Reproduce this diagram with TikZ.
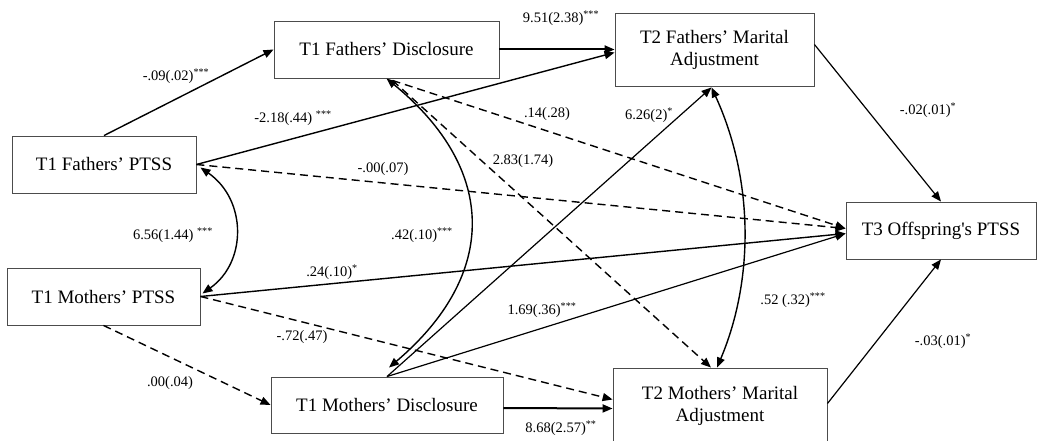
\documentclass[tikz,border=0pt]{standalone}
\usepackage{fontspec}
\setmainfont{Liberation Serif}[Ligatures=TeXOff]
\usetikzlibrary{arrows.meta,calc}
\newcommand\sig[1]{\textsuperscript{#1}}
\begin{document}
\begin{tikzpicture}[x=1pt,y=-1pt,
  box/.style={draw=black!70,line width=0.9pt,inner sep=0pt,align=center,font=\fontsize{19}{22}\selectfont},
  lab/.style={font=\fontsize{14.5}{16}\selectfont,inner sep=0pt},
  tip/.tip={Triangle[length=10pt,width=8pt]},
  arr/.style={line width=1.4pt,-tip},
  dbl/.style={line width=1.4pt,tip-tip},
  dsh/.style={dash pattern=on 8pt off 5pt},
  thk/.style={line width=2pt},
  thn/.style={line width=1.2pt}]
\useasboundingbox (0,0) rectangle (1040,441);
% boxes
\node[box,minimum width=184pt,minimum height=57pt] (fpt) at (104,164.5) {T1 Fathers’ PTSS};
\node[box,minimum width=193pt,minimum height=57pt] (mpt) at (103.5,296.5) {T1 Mothers’ PTSS};
\node[box,minimum width=225pt,minimum height=57pt] (fd) at (386.5,49.5) {T1 Fathers’ Disclosure};
\node[box,minimum width=232pt,minimum height=56pt] (md) at (387,405) {T1 Mothers’ Disclosure};
\node[box,minimum width=199pt,minimum height=73pt] (t2f) at (714.5,49.5) {T2 Fathers’ Marital\\Adjustment};
\node[box,minimum width=214pt,minimum height=75pt] (t2m) at (720,405.5) {T2 Mothers’ Marital\\Adjustment};
\node[box,minimum width=190pt,minimum height=57pt] (t3) at (941,230.5) {T3 Offspring's PTSS};
% connectors
\draw[arr] (fpt.north) -- (fd.west);
\draw[arr,thk] (fd.east) -- (t2f.west);
\draw[arr] (fpt.east) -- ($(t2f.west)+(0,3)$);
\draw[arr,dsh] (fpt.east) -- ($(t3.west)+(0,-2)$);
\draw[dbl] ($(fpt.east)+(4,3)$) .. controls (247,200) and (247,262) .. ($(mpt.east)+(2,-3)$);
\draw[dbl] (fd.south) .. controls (498,170) and (498,275) .. ($(md.north)+(2,-9)$);
\draw[arr,dsh] ($(fd.south)+(6,2)$) -- ($(t3.west)+(0,-2)$);
\draw[arr,dsh] ($(fd.south)+(6,2)$) -- ($(t2m.north)+(-9,0)$);
\draw[arr,thn] (md.north) -- ($(t2f.south)+(-3,1)$);
\draw[dbl] ($(t2f.south)+(-3,1)$) .. controls (754,180) and (754,280) .. ($(t2m.north)+(-3,0)$);
\draw[arr] (mpt.east) -- ($(t3.west)+(0,3)$);
\draw[arr,dsh] (mpt.east) -- ($(t2m.west)+(0,-6)$);
\draw[arr,dsh] (mpt.south) -- (md.west);
\draw[arr,thn] (md.north) -- ($(t3.west)+(0,3)$);
\draw[arr,thk] ($(md.east)+(0,3)$) -- ($(t2m.west)+(0,3)$);
\draw[arr,thn] ($(t2f.east)+(0,-5)$) -- (t3.north);
\draw[arr,thn] ($(t2m.east)+(0,-2)$) -- (t3.south);
% labels
\node[lab] (l1) at (176,76) {-.09(.02)\sig{***}};
\node[lab] (l2) at (561,18) {9.51(2.38)\sig{***}};
\node[lab] (l3) at (293,118) {-2.18(.44) \sig{***}};
\node[lab] (l4) at (383,169) {-.00(.07)};
\node[lab] (l5) at (547,114) {.14(.28)};
\node[lab] (l6) at (523,161) {2.83(1.74)};
\node[lab] (l7) at (649,115) {6.26(2)\sig{*}};
\node[lab] (l8) at (928,110) {-.02(.01)\sig{*}};
\node[lab] (l9) at (173,235) {6.56(1.44) \sig{***}};
\node[lab] (l10) at (422,235) {.42(.10)\sig{***}};
\node[lab] (l11) at (332,272) {.24(.10)\sig{*}};
\node[lab] (l12) at (302,337) {-.72(.47)};
\node[lab] (l13) at (170,383) {.00(.04)};
\node[lab] (l14) at (542,310) {1.69(.36)\sig{***}};
\node[lab] (l15) at (561,428) {8.68(2.57)\sig{**}};
\node[lab] (l16) at (793,300) {.52 (.32)\sig{***}};
\node[lab] (l17) at (943,341) {-.03(.01)\sig{*}};
\end{tikzpicture}
\end{document}
